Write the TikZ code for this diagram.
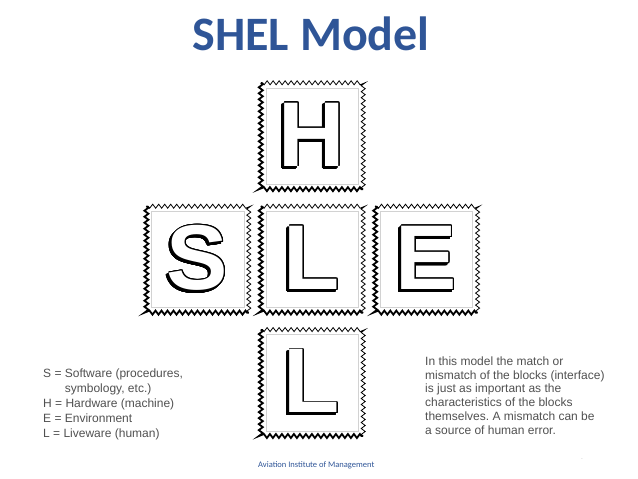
\documentclass[tikz,border=0pt]{standalone}
\usepackage{fontspec}
\setmainfont{Liberation Sans}
\newfontfamily\titlefont{Carlito}
\usepackage{contour}
\contourlength{0.8pt}
\contournumber{24}
\usetikzlibrary{positioning, decorations.pathmorphing}
\definecolor{shelblue}{RGB}{47,85,151}
\definecolor{notegray}{RGB}{80,80,80}
\frenchspacing
% outlined letter with a shadow to the lower left
\newcommand{\stamp}[1]{\rlap{\kern-2.2pt\raisebox{-2.2pt}{\contour{black}{#1}}}\contour{black}{\textcolor{white}{#1}}}

\begin{document}
\begin{tikzpicture}[x=1pt,y=1pt,
    block/.style={minimum width=102pt, minimum height=106pt, inner sep=0pt,
      font=\fontsize{92}{92}\selectfont\bfseries},
    zigthin/.style={decorate, decoration={zigzag, segment length=6pt, amplitude=2pt}, line width=0.8pt},
    zigthick/.style={zigthin, line width=1.8pt},
    note/.style={anchor=north west, inner sep=0pt, align=left, text=notegray}]
  \useasboundingbox (0,0) rectangle (638,-479);

  % Title
  \node[anchor=base, text=shelblue, font=\titlefont\fontsize{48}{48}\selectfont\bfseries] (title) at (311,-50) {SHEL Model};

  % Blocks
  \node[block] (H) at (312,-136) {\stamp{H}};
  \node[block, below=17pt of H] (L) {\stamp{L}};
  \node[block, left=12pt of L] (S) {\stamp{S}};
  \node[block, right=12pt of L] (E) {\stamp{E}};
  \node[block, below=17pt of L] (L2) {\stamp{L}};

  % Stamp borders
  \foreach \blk in {H,S,L,E,L2} {
    \draw[gray!35, line width=0.4pt] ([shift={(5,-5)}]\blk.north west) rectangle ([shift={(-5,5)}]\blk.south east);
    \draw[zigthin] (\blk.south east) -- (\blk.north east) -- (\blk.north west);
    \draw[zigthick] (\blk.north west) -- (\blk.south west) -- (\blk.south east);
  }

  % Notes
  \node[note, font=\fontsize{12}{15}\selectfont] (key) at (43,-369)
    {S = Software (procedures,\\\phantom{S = }symbology, etc.)\\H = Hardware (machine)\\E = Environment\\L = Liveware (human)};
  \node[note, font=\fontsize{12}{13.8}\selectfont] (remark) at (425,-356.5)
    {In this model the match or\\mismatch of the blocks (interface)\\is just as important as the\\characteristics of the blocks\\themselves. A mismatch can be\\a source of human error.};

  % Footer
  \node[anchor=base west, inner sep=0pt, text=shelblue, font=\titlefont\fontsize{8.5}{10}\selectfont] (footer) at (258,-467) {Aviation Institute of Management};
  \node[inner sep=0pt, text=gray, font=\fontsize{5}{5}\selectfont] (mark) at (582,-459) {.};
\end{tikzpicture}
\end{document}
